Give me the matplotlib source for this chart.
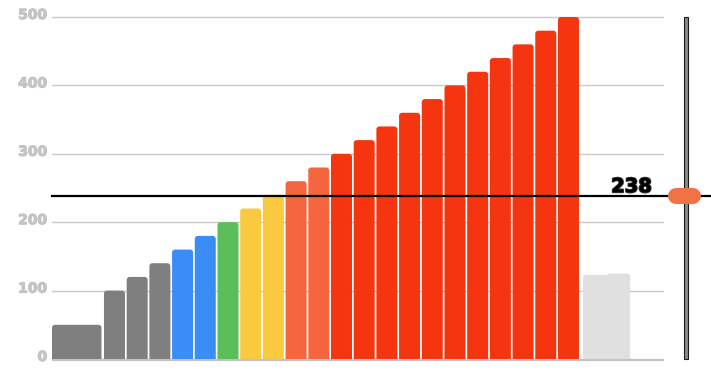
import matplotlib
matplotlib.use('Agg')
import matplotlib.pyplot as plt
import matplotlib.transforms as mtransforms
import matplotlib.patheffects as pe
from matplotlib.patches import FancyBboxPatch, Rectangle
import numpy as np

# ---- data ----
values = [50, 100, 120, 140, 160, 180, 200, 220, 240, 260, 280,
          300, 320, 340, 360, 380, 400, 420, 440, 460, 480, 500,
          123, 125]
groups = (['base', 'gray', 'gray', 'gray', 'blue', 'blue', 'green',
           'yellow', 'yellow', 'orange', 'orange'] + ['red'] * 11 +
          ['ghost', 'ghost'])
threshold = 238
yticks = [0, 100, 200, 300, 400, 500]
ytick_labels = ['0', '100', '200', '300', '400', '500']

# ---- style ----
palette = {'base': '#7f7f7f', 'gray': '#7f7f7f', 'blue': '#3a8cf7',
           'green': '#5abf5a', 'yellow': '#f9c940', 'orange': '#f5663e',
           'red': '#f4350f', 'ghost': '#e0e0e0'}
spans = [2.29] + [1.0] * 20 + [1.1] + [1.04, 1.04]
widths = [2.18] + [0.925] * 21 + [1.2, 1.04]
lefts = np.concatenate([[0], np.cumsum(spans)[:-1]])

W, H = 711, 375
fig = plt.figure(figsize=(W / 100, H / 100), dpi=100)
ax_left, ax_w = 52 / W, 612 / W
y0_px, ypp = 16, 342 / 500          # pixel of zero (from bottom), px per unit
ylo, yhi = -5, 510
ax = fig.add_axes([ax_left, (y0_px + ylo * ypp) / H, ax_w, (yhi - ylo) * ypp / H])
ax.set_xlim(0, 612 / 22.7)
ax.set_ylim(ylo, yhi)
for s in ax.spines.values():
    s.set_visible(False)
ax.set_xticks([])

# gridlines
for t in yticks[1:]:
    ax.axhline(t, color='#c9c9c9', lw=1.0, zorder=0)
ax.axhline(-1.8, color='#c4c4c4', lw=1.7, zorder=0)

# bars (rounded tops)
rects = ax.bar(lefts, values, width=widths, align='edge', bottom=0)
x_per_px = (612 / 22.7) / 612
y_per_px = 1 / ypp
aspect = y_per_px / x_per_px
r = 3 * x_per_px
for rect, g in zip(rects, groups):
    x, y, w, h = rect.get_x(), rect.get_y(), rect.get_width(), rect.get_height()
    rect.set_visible(False)
    p = FancyBboxPatch((x, y - 20), w, h + 20,
                       boxstyle=f'round,pad=0,rounding_size={r}',
                       mutation_aspect=aspect, facecolor=palette[g],
                       edgecolor='none', zorder=2)
    ax.add_patch(p)
    clip = Rectangle((x - 1, y), w + 2, h + 50, transform=ax.transData)
    p.set_clip_path(clip)

# y tick labels
ax.set_yticks(yticks)
ax.set_yticklabels(ytick_labels)
ax.tick_params(axis='y', length=0, pad=3.5, labelsize=10, labelcolor='#c4c4c4')
off = mtransforms.ScaledTranslation(0, 3.5 / 100, fig.dpi_scale_trans)
for lab in ax.get_yticklabels():
    lab.set_fontweight('bold')
    lab.set_transform(lab.get_transform() + off)
    lab.set_path_effects([pe.withStroke(linewidth=0.8, foreground='#c4c4c4')])

# threshold line & label
bt = mtransforms.blended_transform_factory(ax.transAxes, ax.transData)
ax.plot([0, (W - 52) / 612], [threshold, threshold], transform=bt,
        color='black', lw=1.6, clip_on=False, zorder=5)
ax.annotate(str(threshold), xy=((652 - 52) / 612, threshold), xycoords=bt,
            xytext=(0, 4), textcoords='offset pixels', ha='right',
            va='baseline', fontsize=14, fontweight='bold', color='black',
            path_effects=[pe.withStroke(linewidth=1.4, foreground='#333333')],
            zorder=6, annotation_clip=False)

# slider track & handle
track = Rectangle(((684 - 52) / 612, 0), 4 / 612, 500, transform=bt,
                  facecolor='#8a8a8a', edgecolor='#1a1a1a', lw=0.8,
                  clip_on=False, zorder=4)
ax.add_patch(track)
ax.plot([(676 - 52) / 612, (693 - 52) / 612], [threshold + 1, threshold + 1],
        transform=bt, color='#f07344', lw=16 * 72 / 100,
        solid_capstyle='round', clip_on=False, zorder=7)

fig.savefig('out.png', dpi=100)
